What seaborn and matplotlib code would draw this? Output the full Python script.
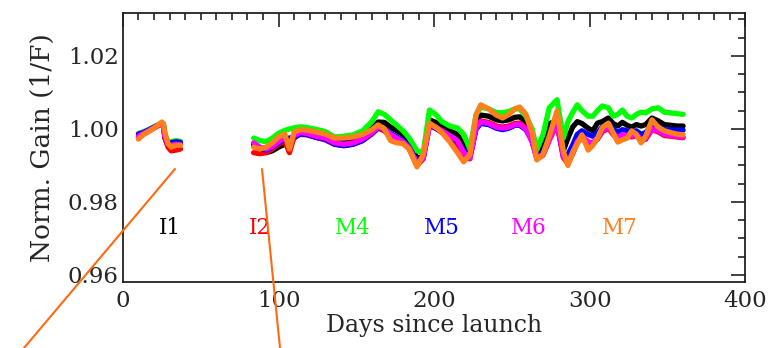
import numpy as np
import pandas as pd
import seaborn as sns
import matplotlib.pyplot as plt
from matplotlib.lines import Line2D
from matplotlib.ticker import MultipleLocator

# band names and colours (drawing order: first is drawn underneath)
bands = ['I1', 'I2', 'M4', 'M5', 'M6', 'M7']
band_colors = ['#000000', '#FF0000', '#00FF00', '#0000FF', '#FF00FF', '#FF7F1E']
label_days = [30, 88, 148, 205, 261, 319]

# early period (days since launch)
days_a = [10, 13, 17, 21, 25, 26, 27, 29, 31, 34, 37]
i1_a = [0.9985, 0.9990, 0.9998, 1.0007, 1.0015, 1.0010, 0.9975, 0.9955, 0.9952, 0.9958, 0.9958]
i2_a = [0.9978, 0.9986, 0.9995, 1.0005, 1.0014, 1.0008, 0.9975, 0.9950, 0.9940, 0.9942, 0.9945]
m4_a = [0.9988, 0.9992, 0.9999, 1.0008, 1.0016, 1.0012, 0.9985, 0.9962, 0.9965, 0.9968, 0.9966]
m5_a = [0.9986, 0.9990, 0.9998, 1.0007, 1.0016, 1.0012, 0.9982, 0.9960, 0.9962, 0.9965, 0.9963]
m6_a = [0.9980, 0.9987, 0.9996, 1.0006, 1.0016, 1.0010, 0.9980, 0.9958, 0.9955, 0.9958, 0.9957]
m7_a = [0.9972, 0.9984, 0.9994, 1.0005, 1.0019, 1.0015, 0.9990, 0.9960, 0.9950, 0.9955, 0.9955]

# main period
days_b = [84, 88, 92, 96, 100, 104, 107, 110, 114, 118, 124, 130, 136, 142, 148,
          154, 160, 164, 168, 172, 176, 180, 184, 189, 193, 197, 201, 205, 210, 215,
          219, 223, 227, 230, 235, 240, 244, 248, 252, 255, 259, 263, 266, 270, 274,
          279, 283, 286, 289, 292, 295, 299, 302, 305, 308, 312, 315, 318, 321, 324,
          327, 330, 333, 336, 340, 344, 348, 352, 356, 360]
i1_b = [0.9956, 0.9945, 0.9935, 0.9940, 0.9950, 0.9958, 0.9960, 0.9975, 0.9988, 0.9992,
        0.9988, 0.9982, 0.9972, 0.9970, 0.9975, 0.9985, 1.0002, 1.0019, 1.0018, 1.0005,
        0.9995, 0.9985, 0.9965, 0.9920, 0.9925, 1.0025, 1.0018, 1.0008, 0.9995, 0.9985,
        0.9955, 0.9930, 1.0020, 1.0038, 1.0035, 1.0025, 1.0022, 1.0025, 1.0032, 1.0033,
        1.0020, 0.9985, 0.9932, 0.9965, 1.0015, 1.0020, 0.9940, 0.9975, 1.0005, 1.0020,
        1.0015, 1.0002, 0.9995, 1.0016, 1.0020, 1.0030, 1.0015, 1.0008, 1.0018, 1.0010,
        1.0005, 1.0012, 1.0008, 1.0012, 1.0030, 1.0022, 1.0012, 1.0010, 1.0008, 1.0008]
i2_b = [0.9935, 0.9932, 0.9935, 0.9945, 0.9958, 0.9968, 0.9935, 0.9978, 0.9985, 0.9984,
        0.9977, 0.9970, 0.9958, 0.9955, 0.9958, 0.9968, 0.9986, 1.0002, 0.9995, 0.9978,
        0.9970, 0.9962, 0.9945, 0.9900, 0.9918, 1.0010, 1.0002, 0.9990, 0.9975, 0.9955,
        0.9925, 0.9918, 1.0005, 1.0022, 1.0018, 1.0008, 1.0005, 1.0008, 1.0015, 1.0016,
        1.0002, 0.9965, 0.9918, 0.9928, 0.9970, 1.0015, 0.9922, 0.9905, 0.9932, 0.9962,
        0.9977, 0.9962, 0.9960, 0.9972, 0.9992, 1.0002, 0.9985, 0.9972, 0.9982, 0.9980,
        0.9978, 0.9982, 0.9968, 0.9972, 0.9998, 0.9992, 0.9982, 0.9980, 0.9978, 0.9976]
m4_b = [0.9975, 0.9968, 0.9965, 0.9975, 0.9988, 0.9996, 1.0000, 1.0003, 1.0006, 1.0004,
        0.9999, 0.9993, 0.9978, 0.9980, 0.9984, 0.9995, 1.0020, 1.0047, 1.0040, 1.0025,
        1.0010, 0.9995, 0.9975, 0.9940, 0.9935, 1.0052, 1.0040, 1.0020, 1.0008, 1.0003,
        0.9985, 0.9945, 1.0040, 1.0060, 1.0055, 1.0045, 1.0044, 1.0048, 1.0055, 1.0055,
        1.0035, 1.0000, 0.9943, 0.9985, 1.0058, 1.0080, 0.9975, 1.0020, 1.0045, 1.0066,
        1.0050, 1.0035, 1.0035, 1.0050, 1.0063, 1.0058, 1.0035, 1.0040, 1.0052, 1.0035,
        1.0030, 1.0040, 1.0046, 1.0044, 1.0055, 1.0058, 1.0046, 1.0044, 1.0042, 1.0040]
m5_b = [0.9958, 0.9948, 0.9942, 0.9950, 0.9962, 0.9972, 0.9975, 0.9978, 0.9986, 0.9985,
        0.9977, 0.9972, 0.9958, 0.9954, 0.9958, 0.9968, 0.9988, 1.0003, 1.0000, 0.9988,
        0.9978, 0.9968, 0.9950, 0.9910, 0.9922, 1.0010, 1.0002, 0.9992, 0.9980, 0.9965,
        0.9940, 0.9925, 1.0000, 1.0015, 1.0012, 1.0002, 0.9998, 1.0002, 1.0010, 1.0010,
        0.9998, 0.9968, 0.9925, 0.9935, 0.9975, 1.0015, 0.9930, 0.9930, 0.9955, 0.9985,
        0.9995, 0.9985, 0.9980, 0.9990, 1.0005, 1.0015, 1.0000, 0.9990, 0.9998, 0.9995,
        0.9990, 0.9995, 0.9985, 0.9990, 1.0010, 1.0005, 0.9998, 0.9997, 0.9997, 0.9997]
m6_b = [0.9962, 0.9950, 0.9945, 0.9952, 0.9965, 0.9975, 0.9955, 0.9982, 0.9990, 0.9988,
        0.9980, 0.9975, 0.9962, 0.9958, 0.9962, 0.9972, 0.9990, 1.0005, 1.0000, 0.9985,
        0.9975, 0.9965, 0.9948, 0.9905, 0.9920, 1.0012, 1.0005, 0.9995, 0.9982, 0.9968,
        0.9935, 0.9920, 1.0005, 1.0020, 1.0015, 1.0005, 1.0002, 1.0005, 1.0012, 1.0013,
        1.0000, 0.9965, 0.9920, 0.9930, 0.9970, 1.0015, 0.9925, 0.9910, 0.9935, 0.9965,
        0.9980, 0.9965, 0.9962, 0.9975, 0.9995, 1.0005, 0.9988, 0.9975, 0.9985, 0.9982,
        0.9980, 0.9985, 0.9970, 0.9975, 1.0000, 0.9995, 0.9985, 0.9982, 0.9980, 0.9978]
m7_b = [0.9950, 0.9945, 0.9950, 0.9962, 0.9978, 0.9986, 0.9945, 0.9992, 0.9998, 0.9997,
        0.9992, 0.9986, 0.9975, 0.9975, 0.9978, 0.9985, 0.9998, 1.0011, 1.0000, 0.9968,
        0.9962, 0.9960, 0.9945, 0.9896, 0.9930, 1.0016, 1.0005, 0.9990, 0.9965, 0.9935,
        0.9910, 0.9930, 1.0040, 1.0066, 1.0055, 1.0038, 1.0030, 1.0040, 1.0055, 1.0060,
        1.0040, 0.9990, 0.9915, 0.9930, 0.9980, 1.0050, 0.9940, 0.9900, 0.9935, 0.9960,
        0.9984, 0.9942, 0.9955, 0.9975, 1.0003, 1.0016, 0.9990, 0.9964, 0.9970, 0.9975,
        0.9995, 0.9985, 0.9962, 0.9980, 1.0025, 1.0005, 0.9995, 0.9990, 0.9986, 0.9984]

series_a = [i1_a, i2_a, m4_a, m5_a, m6_a, m7_a]
series_b = [i1_b, i2_b, m4_b, m5_b, m6_b, m7_b]

rows = []
for name, va, vb in zip(bands, series_a, series_b):
    for d, v in zip(days_a, va):
        rows.append((name, 'a', d, v))
    for d, v in zip(days_b, vb):
        rows.append((name, 'b', d, v))
df = pd.DataFrame(rows, columns=['band', 'seg', 'day', 'gain'])

sns.set_style('white')
plt.rcParams['font.family'] = ['DejaVu Serif']

fig = plt.figure(figsize=(7.78, 3.48), dpi=100)
ax = fig.add_axes([0.158, 0.190, 0.800, 0.773])

sns.lineplot(data=df, x='day', y='gain', hue='band', hue_order=bands,
             palette=dict(zip(bands, band_colors)), units='seg', estimator=None,
             sort=False, lw=3.8, legend=False, ax=ax)

for name, col, d in zip(bands, band_colors, label_days):
    ax.text(d, 0.9728, name, color=col, ha='center', va='center', fontsize=15.5)

ax.set_xlim(0, 400)
ax.set_ylim(0.9581, 1.0318)
ax.xaxis.set_major_locator(MultipleLocator(100))
ax.xaxis.set_minor_locator(MultipleLocator(10))
ax.yaxis.set_major_locator(MultipleLocator(0.02))
ax.yaxis.set_minor_locator(MultipleLocator(0.005))
ax.yaxis.set_major_formatter(plt.FormatStrFormatter('%.2f'))
ax.tick_params(which='both', direction='in', top=True, right=True, color='#222222',
               labelsize=16.5, width=1.2)
ax.tick_params(which='major', length=10)
ax.tick_params(axis='y', which='major', pad=3)
ax.tick_params(axis='x', which='major', pad=6)
ax.tick_params(which='minor', length=5)
for s in ax.spines.values():
    s.set_color('#222222')
    s.set_linewidth(1.3)

ax.set_xlabel('Days since launch', fontsize=17, labelpad=1)
ax.set_ylabel('Norm. Gain (1/F)', fontsize=19, labelpad=9)

# callout lines towards the zoomed panels below
fig.add_artist(Line2D([175 / 778, 24 / 778], [1 - 169 / 348, 0], transform=fig.transFigure,
                      color='#FF6A10', lw=1.5, zorder=10))
fig.add_artist(Line2D([262 / 778, 280 / 778], [1 - 169 / 348, 0], transform=fig.transFigure,
                      color='#FF6A10', lw=1.5, zorder=10))

fig.savefig('out.png', dpi=100)
